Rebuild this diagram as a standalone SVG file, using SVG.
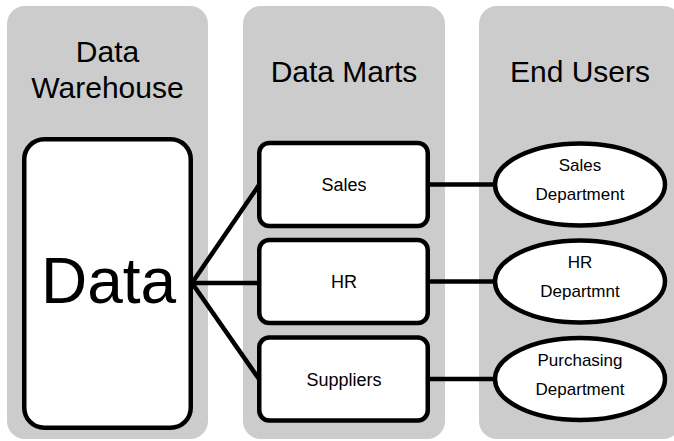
<svg xmlns="http://www.w3.org/2000/svg" width="674" height="441" viewBox="0 0 674 441">
<style>
.panel{fill:#cccccc;}
.box{fill:#ffffff;stroke:#000000;stroke-width:4.5;}
.conn{stroke:#000000;stroke-width:4.5;fill:none;}
text{font-family:"Liberation Sans",Arial,sans-serif;fill:#000000;text-anchor:middle;}
.hdr{font-size:30px;}
.lbl{font-size:18px;}
.ell{font-size:17px;}
.big{font-size:64px;}
</style>
<rect width="674" height="441" fill="#ffffff"/>
<g id="panel-warehouse">
<rect class="panel" x="7" y="6" width="201" height="433" rx="18"/>
<text class="hdr" x="107.5" y="62">Data</text>
<text class="hdr" x="107.5" y="98">Warehouse</text>
</g>
<g id="panel-marts">
<rect class="panel" x="243" y="6" width="202" height="433" rx="18"/>
<text class="hdr" x="344" y="82">Data Marts</text>
</g>
<g id="panel-users">
<rect class="panel" x="479" y="6" width="202" height="433" rx="18"/>
<text class="hdr" x="580" y="82">End Users</text>
</g>
<g id="connectors">
<line class="conn" x1="192" y1="283" x2="259" y2="185"/>
<line class="conn" x1="192" y1="283" x2="259" y2="283"/>
<line class="conn" x1="192" y1="283" x2="259" y2="379"/>
<line class="conn" x1="428" y1="184.5" x2="496" y2="184.5"/>
<line class="conn" x1="428" y1="281.5" x2="496" y2="281.5"/>
<line class="conn" x1="428" y1="379" x2="496" y2="379"/>
</g>
<g id="node-data">
<rect class="box" x="24.25" y="139.25" width="166.5" height="288.5" rx="20"/>
<text class="big" x="108.5" y="303">Data</text>
</g>
<g id="node-sales">
<rect class="box" x="259.25" y="143" width="168.5" height="83" rx="10"/>
<text class="lbl" x="344" y="191">Sales</text>
</g>
<g id="node-hr">
<rect class="box" x="259.25" y="240" width="168.5" height="83" rx="10"/>
<text class="lbl" x="344" y="288">HR</text>
</g>
<g id="node-suppliers">
<rect class="box" x="259.25" y="337.5" width="168.5" height="83" rx="10"/>
<text class="lbl" x="344" y="385.5">Suppliers</text>
</g>
<g id="node-sales-dept">
<ellipse class="box" cx="580" cy="184.5" rx="85" ry="41"/>
<text class="ell" x="580" y="171">Sales</text>
<text class="ell" x="580" y="200">Department</text>
</g>
<g id="node-hr-dept">
<ellipse class="box" cx="580" cy="281.5" rx="85" ry="41"/>
<text class="ell" x="580" y="268">HR</text>
<text class="ell" x="580" y="297">Departmnt</text>
</g>
<g id="node-purchasing-dept">
<ellipse class="box" cx="580" cy="379" rx="85" ry="41"/>
<text class="ell" x="580" y="365.5">Purchasing</text>
<text class="ell" x="580" y="394.5">Department</text>
</g>
</svg>
